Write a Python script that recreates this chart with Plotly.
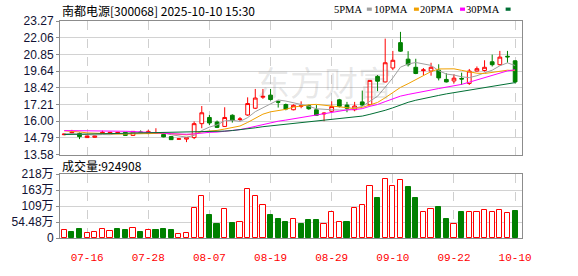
import plotly.graph_objects as go

# ---------------- data ----------------
dates = ["07-11","07-14","07-15","07-16","07-17","07-18","07-21","07-22","07-23","07-24",
         "07-25","07-28","07-29","07-30","07-31","08-01","08-04","08-05","08-06","08-07",
         "08-08","08-11","08-12","08-13","08-14","08-15","08-18","08-19","08-20","08-21",
         "08-22","08-25","08-26","08-27","08-28","08-29","09-01","09-02","09-03","09-04",
         "09-05","09-08","09-09","09-10","09-11","09-12","09-15","09-16","09-17","09-18",
         "09-19","09-22","09-23","09-24","09-25","09-26","09-29","09-30","10-09","10-10"]

opens = [15.02,15.15,15.11,14.81,14.83,15.11,15.11,15.11,15.19,14.97,
         15.22,15.11,15.12,15.04,14.88,14.69,14.70,14.81,15.82,16.27,
         15.94,15.62,16.43,16.12,16.45,16.94,17.74,17.89,17.42,17.21,
         16.83,17.08,17.13,16.83,16.53,16.72,17.55,17.17,16.83,17.40,
         17.20,19.25,18.85,19.86,21.70,20.50,19.91,19.67,19.64,19.70,
         19.03,18.92,19.10,18.74,19.64,19.68,20.31,20.10,20.71,20.38]
highs = [15.12,15.37,15.18,14.95,14.96,15.31,15.22,15.22,15.22,15.28,
         15.33,15.37,15.49,15.12,14.90,14.76,14.83,15.98,17.10,16.45,
         16.05,17.01,16.50,16.30,17.73,18.34,18.34,18.34,17.50,17.28,
         17.22,17.44,17.20,17.17,16.65,17.44,17.62,17.40,17.40,18.22,
         18.98,19.35,21.99,21.10,22.48,21.08,20.53,19.86,20.24,20.13,
         19.48,19.41,19.52,19.79,19.97,20.42,20.83,21.10,21.10,20.42]
lows = [14.98,15.10,14.70,14.79,14.80,15.08,15.08,15.06,14.95,14.95,
        15.15,15.06,15.10,14.83,14.64,14.66,14.48,14.70,15.49,15.71,
        15.50,15.58,15.90,16.00,16.39,16.88,17.62,17.50,16.99,16.79,
        16.79,16.94,16.83,16.39,16.00,16.65,17.00,16.65,16.72,17.10,
        17.15,18.18,18.81,19.70,21.03,19.97,19.41,19.35,19.30,18.96,
        18.81,18.74,18.63,18.63,19.60,19.60,19.97,20.05,20.24,18.74]
closes = [15.06,15.20,14.88,14.93,14.93,15.19,15.19,15.19,14.97,15.26,
          15.18,15.26,15.15,14.86,14.66,14.72,14.81,15.82,16.61,15.87,
          15.55,16.27,16.05,16.16,17.28,17.68,17.80,17.57,17.38,16.88,
          17.15,17.12,16.90,16.43,16.58,17.06,17.08,16.94,17.10,17.17,
          18.96,18.90,20.24,20.42,21.08,20.10,19.46,19.72,19.91,19.14,
          18.85,19.12,19.06,19.64,19.81,19.91,20.10,20.65,20.67,18.85]

# volume in 万 (10k shares)
volumes = [27.7,21.3,30.9,18.2,21.3,30.9,24.5,30.9,27.7,34.1,
           21.3,27.7,27.7,30.9,27.7,15.0,18.2,101,142,79,
           47,98,50,56,168,142,111,79,63,53,
           63,47,60,60,46,87,55,56,103,113,
           176,136,202,176,199,174,136,90,98,106,
           66,46,88,90,87,94,87,94,84,92.49]
# volume bar direction as shown (1 = up / red hollow, 0 = down / green)
vol_dir = [1,0,0,1,1,1,1,0,0,1,
           0,1,0,0,0,1,1,1,1,0,
           0,1,0,1,1,1,1,0,0,0,
           1,0,0,0,1,1,1,0,1,1,
           1,0,1,1,1,0,0,1,1,0,
           0,1,0,1,1,1,1,1,1,0]

ma5 = [15.08,15.10,15.05,15.02,15.00,15.03,15.02,15.09,15.09,15.16,
       15.16,15.17,15.16,15.14,15.02,14.93,14.84,14.97,15.32,15.57,
       15.73,16.02,16.07,15.98,16.26,16.69,16.99,17.30,17.54,17.46,
       17.35,17.22,17.09,16.90,16.84,16.83,16.81,16.81,16.95,17.07,
       17.45,17.81,18.47,19.14,19.92,20.15,20.26,20.16,20.05,19.67,
       19.42,19.35,19.22,19.16,19.30,19.51,19.70,20.02,20.23,20.04]
ma10 = [15.30,15.28,15.22,15.15,15.12,15.10,15.08,15.07,15.07,15.08,
        15.09,15.10,15.13,15.12,15.09,15.04,15.01,15.07,15.23,15.29,
        15.33,15.43,15.52,15.65,15.91,16.21,16.51,16.68,16.76,16.86,
        17.02,17.11,17.19,17.22,17.15,17.09,17.01,16.95,16.92,17.00,
        17.18,17.36,17.70,18.06,18.45,18.72,19.00,19.30,19.60,19.79,
        19.78,19.80,19.69,19.61,19.48,19.46,19.53,19.62,19.70,19.67]
ma20 = [15.32,15.32,15.31,15.30,15.30,15.30,15.30,15.29,15.27,15.25,
        15.23,15.20,15.17,15.13,15.09,15.06,15.05,15.08,15.15,15.19,
        15.21,15.27,15.32,15.39,15.50,15.63,15.76,15.88,16.00,16.08,
        16.17,16.27,16.36,16.44,16.53,16.65,16.76,16.82,16.84,16.91,
        17.08,17.21,17.42,17.63,17.82,17.94,18.03,18.13,18.26,18.37,
        18.46,18.56,18.67,18.83,18.99,19.13,19.28,19.47,19.65,19.73]
ma30 = [15.03,15.04,15.05,15.06,15.08,15.10,15.10,15.11,15.11,15.12,
        15.13,15.14,15.16,15.17,15.18,15.19,15.20,15.22,15.24,15.25,
        15.26,15.28,15.32,15.37,15.45,15.52,15.60,15.66,15.71,15.75,
        15.81,15.88,15.95,16.00,16.05,16.11,16.18,16.23,16.31,16.37,
        16.50,16.62,16.79,16.97,17.19,17.37,17.52,17.65,17.76,17.87,
        17.98,18.07,18.17,18.29,18.37,18.45,18.53,18.63,18.74,18.80]

price_ticks = [13.58, 14.79, 16.00, 17.21, 18.42, 19.64, 20.85, 22.06, 23.27]
vol_ticks = [0, 54.48, 108.96, 163.44, 217.92]
vol_tick_text = ["0", "54.48万", "109万", "163万", "218万"]
date_ticks = ["07-16", "07-28", "08-07", "08-19", "08-29", "09-10", "09-22", "10-10"]

title_text = "南都电源[300068] 2025-10-10 15:30"
vol_title = "成交量:924908"
ma_names = ["5PMA", "10PMA", "20PMA", "30PMA"]
ma_colors = ["#a0a0a0", "#f0a000", "#ff00ff", "#006f35"]

RED = "#ff0000"
GREEN = "#008000"

# ---------------- layout geometry (pixels) ----------------
W, H = 578, 276
ML, MR, MT, MB = 56, 56, 21, 21
PW = W - ML - MR
PH = H - MT - MB


def px_x(px):
    return (px - ML) / PW


def px_y(py):
    return (H - MB - py) / PH


main_dom = [px_y(165), 1.0]
vol_dom = [0.0, px_y(186)]

fig = go.Figure()

fig.add_trace(go.Candlestick(
    x=dates, open=opens, high=highs, low=lows, close=closes,
    increasing=dict(line=dict(color=RED, width=1), fillcolor="#ffffff"),
    decreasing=dict(line=dict(color=GREEN, width=1), fillcolor=GREEN),
    whiskerwidth=0, showlegend=False, hoverinfo="skip",
    xaxis="x", yaxis="y"))

for name, vals, col in zip(ma_names, [ma5, ma10, ma20, ma30], ma_colors):
    fig.add_trace(go.Scatter(x=dates, y=vals, mode="lines", name=name,
                             line=dict(color=col, width=1), showlegend=False,
                             hoverinfo="skip", xaxis="x", yaxis="y"))

fig.add_trace(go.Bar(
    x=dates, y=volumes, width=0.68,
    marker=dict(color=["#ffffff" if u else GREEN for u in vol_dir],
                line=dict(color=[RED if u else GREEN for u in vol_dir], width=1)),
    showlegend=False, hoverinfo="skip", xaxis="x2", yaxis="y2"))

axis_font = dict(family="Liberation Sans, Noto Sans CJK SC", size=12, color="#111133")
xrange = [-0.55, len(dates) - 0.1]

common_x = dict(type="category", range=xrange, tickmode="array", tickvals=date_ticks,
                showgrid=True, gridcolor="#cfcfcf", griddash="dash", gridwidth=1,
                showline=True, mirror=True, linecolor="#8c8c8c", linewidth=1,
                zeroline=False, fixedrange=True)

fig.update_layout(
    width=W, height=H,
    margin=dict(l=ML, r=MR, t=MT, b=MB, pad=0),
    paper_bgcolor="#ffffff", plot_bgcolor="#ffffff",
    showlegend=False, bargap=0,
    xaxis=dict(domain=[0, 1], anchor="y", showticklabels=False, ticks="",
               rangeslider=dict(visible=False), **common_x),
    yaxis=dict(domain=main_dom, anchor="x", range=[price_ticks[0], price_ticks[-1]],
               tickmode="array", tickvals=price_ticks,
               ticktext=["%.2f" % v for v in price_ticks],
               showgrid=True, gridcolor="#d2d2d2", gridwidth=1,
               showline=True, mirror=True, linecolor="#8c8c8c", linewidth=1,
               ticks="outside", ticklen=3, tickcolor="#8c8c8c",
               zeroline=False, tickfont=axis_font, fixedrange=True),
    xaxis2=dict(domain=[0, 1], anchor="y2", ticktext=date_ticks, ticks="",
                ticklabelstandoff=9,
                tickfont=dict(family="Liberation Mono", size=11, color=RED),
                **common_x),
    yaxis2=dict(domain=vol_dom, anchor="x2", range=[0, vol_ticks[-1]],
                tickmode="array", tickvals=vol_ticks, ticktext=vol_tick_text,
                showgrid=True, gridcolor="#d2d2d2", gridwidth=1,
                showline=True, mirror=True, linecolor="#8c8c8c", linewidth=1,
                ticks="outside", ticklen=3, tickcolor="#8c8c8c",
                zeroline=False, tickfont=axis_font, fixedrange=True),
)

annotations = [
    dict(text=title_text, x=px_x(56), y=px_y(10), xref="paper", yref="paper",
         xanchor="left", yanchor="middle", showarrow=False,
         font=dict(family="Noto Sans CJK SC", size=12, color="#000000")),
    dict(text=vol_title, x=px_x(56), y=px_y(177), xref="paper", yref="paper",
         xanchor="left", yanchor="middle", showarrow=False,
         font=dict(family="Noto Sans CJK SC", size=12, color="#000000")),
    dict(text="东方财富", x=px_x(322), y=px_y(86), xref="paper", yref="paper",
         xanchor="center", yanchor="middle", showarrow=False,
         font=dict(family="Noto Sans CJK SC", size=34, color="rgba(110,110,110,0.16)")),
]

shapes = []
legend_text_right = [362.5, 409.5, 455.5, 501.5]
legend_sq_left = [365.5, 413, 459.5, 505.5]
for name, col, tr, sl in zip(ma_names, ma_colors, legend_text_right, legend_sq_left):
    annotations.append(dict(text=name, x=px_x(tr), y=px_y(8.5), xref="paper", yref="paper",
                            xanchor="right", yanchor="middle", showarrow=False,
                            font=dict(family="Liberation Serif", size=10.5, color="#000000")))
    shapes.append(dict(type="rect", xref="paper", yref="paper",
                       x0=px_x(sl), x1=px_x(sl + 5), y0=px_y(10), y1=px_y(6.5),
                       fillcolor=col, line=dict(width=0)))

fig.update_layout(annotations=annotations, shapes=shapes)

fig.write_html("out.html")
